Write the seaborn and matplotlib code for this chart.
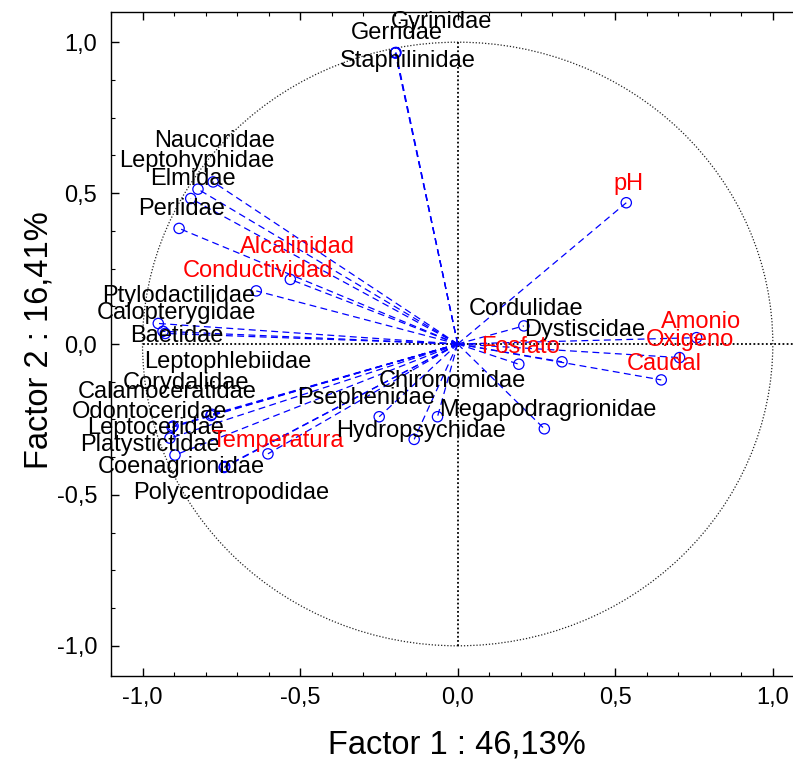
import matplotlib
matplotlib.use("Agg")
import numpy as np
import pandas as pd
import seaborn as sns
import matplotlib.pyplot as plt
from matplotlib.patches import Circle
from matplotlib.ticker import MultipleLocator, FixedLocator, FixedFormatter

# ---------------- data ----------------
variables = [
    "Gyrinidae", "Gerridae", "Staphilinidae",
    "Naucoridae", "Leptohyphidae", "Elmidae", "Perlidae",
    "Alcalinidad", "Conductividad",
    "Ptylodactilidae", "Calopterygidae", "Baetidae",
    "Leptophlebiidae", "Corydalidae", "Calamoceratidae", "Odontoceridae",
    "Leptoceridae", "Platystictidae", "Coenagrionidae", "Polycentropodidae",
    "Temperatura",
    "Psephenidae", "Chironomidae", "Hydropsychidae", "Megapodragrionidae",
    "Cordulidae", "Dystiscidae", "Fosfato", "pH", "Amonio", "Oxigeno", "Caudal",
]
factor1 = [
    -0.197, -0.198, -0.196,
    -0.776, -0.824, -0.847, -0.884,
    -0.531, -0.639,
    -0.950, -0.935, -0.928,
    -0.780, -0.783, -0.903, -0.906,
    -0.913, -0.897, -0.739, -0.741,
    -0.602,
    -0.249, -0.064, -0.138, 0.275,
    0.210, 0.331, 0.194, 0.535, 0.758, 0.704, 0.646,
]
factor2 = [
    0.965, 0.964, 0.966,
    0.537, 0.513, 0.482, 0.383,
    0.214, 0.176,
    0.068, 0.042, 0.035,
    -0.233, -0.237, -0.272, -0.276,
    -0.312, -0.368, -0.406, -0.409,
    -0.364,
    -0.241, -0.241, -0.316, -0.281,
    0.060, -0.059, -0.067, 0.468, 0.021, -0.045, -0.119,
]
environmental = ["Alcalinidad", "Conductividad", "Temperatura", "Fosfato",
                 "pH", "Amonio", "Oxigeno", "Caudal"]
x_ticks = [-1.0, -0.5, 0.0, 0.5, 1.0]
x_tick_labels = ["-1,0", "-0,5", "0,0", "0,5", "1,0"]
y_ticks = [-1.0, -0.5, 0.0, 0.5, 1.0]
y_tick_labels = ["-1,0", "-0,5", "0,0", "0,5", "1,0"]
x_title = "Factor 1 : 46,13%"
y_title = "Factor 2 : 16,41%"

# ---------------- layout (label placement, data coords) ----------------
label_pos = {
    "Gyrinidae": (-0.052, 1.066), "Gerridae": (-0.192, 1.030),
    "Staphilinidae": (-0.157, 0.937), "Naucoridae": (-0.772, 0.672),
    "Leptohyphidae": (-0.829, 0.606), "Elmidae": (-0.839, 0.546),
    "Perlidae": (-0.877, 0.447), "Alcalinidad": (-0.509, 0.321),
    "Conductividad": (-0.633, 0.242), "Ptylodactilidae": (-0.886, 0.159),
    "Calopterygidae": (-0.893, 0.103), "Baetidae": (-0.890, 0.026),
    "Leptophlebiidae": (-0.731, -0.060), "Corydalidae": (-0.861, -0.129),
    "Calamoceratidae": (-0.921, -0.159), "Odontoceridae": (-0.978, -0.225),
    "Leptoceridae": (-0.959, -0.278), "Platystictidae": (-0.975, -0.334),
    "Temperatura": (-0.572, -0.321), "Coenagrionidae": (-0.877, -0.407),
    "Polycentropodidae": (-0.718, -0.493), "Psephenidae": (-0.290, -0.179),
    "Chironomidae": (-0.017, -0.123), "Hydropsychidae": (-0.116, -0.288),
    "Megapodragrionidae": (0.287, -0.219), "Cordulidae": (0.217, 0.116),
    "Dystiscidae": (0.404, 0.046), "Fosfato": (0.198, -0.010),
    "pH": (0.541, 0.530), "Amonio": (0.772, 0.073),
    "Oxigeno": (0.737, 0.013), "Caudal": (0.655, -0.066),
}

sns.set_theme(style="white")
plt.rcParams["font.family"] = ["Liberation Sans", "DejaVu Sans"]

W, H = 793, 760
fig = plt.figure(figsize=(W / 100, H / 100), dpi=100)
ax = fig.add_axes([111 / W, 1 - 676 / H, (W - 111) / W, (676 - 12) / H])

# vectors from origin
df = pd.DataFrame({"name": variables, "f1": factor1, "f2": factor2})
lines = pd.concat([
    pd.DataFrame({"name": df["name"], "x": 0.0, "y": 0.0, "o": 0}),
    pd.DataFrame({"name": df["name"], "x": df["f1"], "y": df["f2"], "o": 1}),
]).sort_values(["name", "o"])
sns.lineplot(data=lines, x="x", y="y", units="name", estimator=None, sort=False,
             color="blue", lw=0.9, linestyle=(0, (5.5, 3.5)), ax=ax, legend=False,
             zorder=2)
sns.scatterplot(data=df, x="f1", y="f2", ax=ax, marker="o", s=55,
                facecolor="none", edgecolor="blue", linewidth=0.9, zorder=3,
                legend=False)

# unit circle and zero lines
ax.add_patch(Circle((0, 0), 1.0, fill=False, ls=(0, (1, 1.5)), lw=0.9,
                    ec="#222222", zorder=1))
ax.plot([0, 0], [-1, 1], color="black", ls=(0, (1, 1.3)), lw=1.3, zorder=1)
ax.plot([-1, 1.1], [0, 0], color="black", ls=(0, (1, 1.3)), lw=1.3, zorder=1)

for name in variables:
    lx, ly = label_pos[name]
    ax.text(lx, ly, name, ha="center", va="center", fontsize=17,
            color="red" if name in environmental else "black", zorder=4)

ax.set_xlim(-1.1, 1.064)
ax.set_ylim(-1.1, 1.1)
ax.xaxis.set_major_locator(FixedLocator(x_ticks))
ax.xaxis.set_major_formatter(FixedFormatter(x_tick_labels))
ax.yaxis.set_major_locator(FixedLocator(y_ticks))
ax.yaxis.set_major_formatter(FixedFormatter(y_tick_labels))
ax.xaxis.set_minor_locator(MultipleLocator(0.1))
ax.yaxis.set_minor_locator(MultipleLocator(0.125))
ax.tick_params(which="both", direction="in", top=True, bottom=True,
               left=True, right=False, colors="black", labelsize=17)
ax.tick_params(which="major", length=6, width=1)
ax.tick_params(which="minor", length=3, width=0.8)
ax.tick_params(axis="x", pad=8)
ax.tick_params(axis="y", pad=10)
for s in ["left", "bottom", "top"]:
    ax.spines[s].set_color("black")
    ax.spines[s].set_linewidth(1.0)
ax.spines["right"].set_visible(False)

ax.set_xlabel(x_title, fontsize=23.5, color="black")
ax.set_ylabel(y_title, fontsize=23.5, color="black")
ax.xaxis.set_label_coords((457 - 111) / (W - 111), (760 - 745 - 84) / 664)
ax.xaxis.label.set_verticalalignment("center")
ax.yaxis.set_label_coords((39 - 111) / (W - 111), (760 - 340 - 84) / 664)
ax.yaxis.label.set_verticalalignment("center")

fig.savefig("out.png", dpi=100)
